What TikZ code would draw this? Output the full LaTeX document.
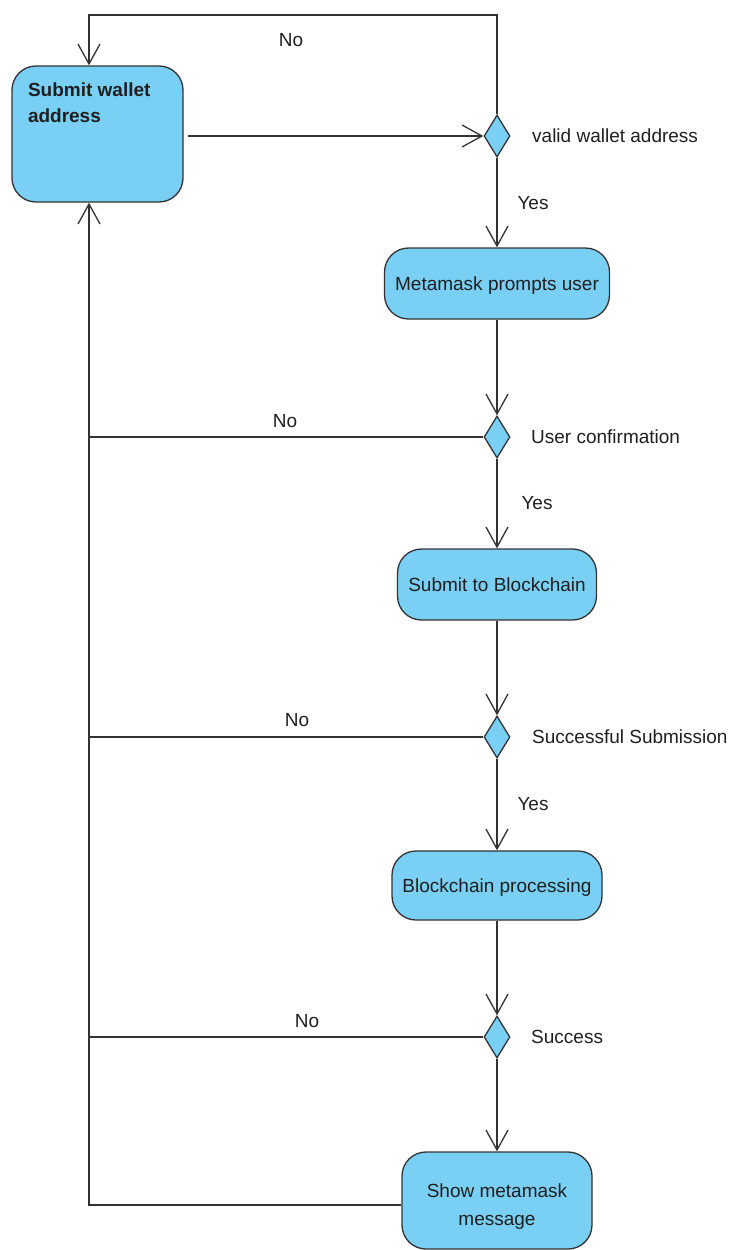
\documentclass[tikz,border=0pt]{standalone}
\usepackage{fontspec}
\setmainfont{Liberation Sans}
\usetikzlibrary{shapes.geometric,arrows.meta}
\definecolor{boxblue}{RGB}{122,207,245}
\definecolor{edgegray}{RGB}{51,51,51}
\begin{document}
\begin{tikzpicture}[x=1pt,y=-1pt,
  every node/.style={font=\fontsize{19}{26}\selectfont, text=black!88},
  act/.style={draw=edgegray, fill=boxblue, line width=1.3pt, rounded corners=24pt, align=center, inner sep=0pt},
  dec/.style={diamond, draw=edgegray, fill=boxblue, line width=1.3pt, minimum width=26pt, minimum height=42pt, inner sep=0pt},
  conn/.style={draw=edgegray, line width=1.3pt},
  arr/.style={conn, -{Straight Barb[length=20pt,width=22pt,line width=1.3pt]}},
  lbl/.style={inner sep=0pt}]
\useasboundingbox (0,0) rectangle (735,1250);

% activity boxes
\node[act, minimum width=171pt, minimum height=136pt] (submit) at (97.5,134)
  {\parbox[c][136pt][t]{139pt}{\raggedright\rule{0pt}{30pt}\textbf{Submit wallet}\\\textbf{address}}};
\node[act, minimum width=225pt, minimum height=71pt, text depth=0pt] (m1) at (497,283.5) {Metamask prompts user};
\node[act, minimum width=199pt, minimum height=71pt, text depth=0pt] (m2) at (497,584.5) {Submit to Blockchain};
\node[act, minimum width=210pt, minimum height=69pt, text depth=0pt] (m3) at (497,885.5) {Blockchain processing};
\node[act, minimum width=190pt, minimum height=97pt] (show) at (497,1200.5) {\rule{0pt}{26pt}Show metamask\\[2pt]message};

% decisions
\node[dec] (d1) at (497,136) {};
\node[dec] (d2) at (497,437) {};
\node[dec] (d3) at (497,737) {};
\node[dec] (d4) at (497,1037) {};

% decision texts
\node[lbl, anchor=west] (t1) at (532,136) {valid wallet address};
\node[lbl, anchor=west] (t2) at (531,437) {User confirmation};
\node[lbl, anchor=west] (t3) at (532,737) {Successful Submission};
\node[lbl, anchor=west] (t4) at (531,1037) {Success};

% branch labels
\node[lbl] (no0) at (291,40) {No};
\node[lbl] (yes1) at (533,203) {Yes};
\node[lbl] (no1) at (285,421) {No};
\node[lbl] (yes2) at (537,503) {Yes};
\node[lbl] (no2) at (297,720) {No};
\node[lbl] (yes3) at (533,804) {Yes};
\node[lbl] (no3) at (307,1021) {No};

% helper coordinates
\coordinate (top) at (89,15);
\coordinate (trunk) at (89,1205);

% connectors
\draw[arr] (d1.north) |- (top) -- (top |- submit.north);
\draw[arr, shorten <=4pt] (submit.east |- d1.west) -- (d1.west);
\draw[arr] (d1.south) -- (m1.north);
\draw[arr] (m1.south) -- (d2.north);
\draw[conn] (d2.west) -- (d2.west -| trunk);
\draw[arr] (d2.south) -- (m2.north);
\draw[arr] (m2.south) -- (d3.north);
\draw[conn] (d3.west) -- (d3.west -| trunk);
\draw[arr] (d3.south) -- (m3.north);
\draw[arr] (m3.south) -- (d4.north);
\draw[conn] (d4.west) -- (d4.west -| trunk);
\draw[arr] (d4.south) -- (show.north);
\draw[arr] (show.west |- trunk) -- (trunk) -- (trunk |- submit.south);
\end{tikzpicture}
\end{document}
